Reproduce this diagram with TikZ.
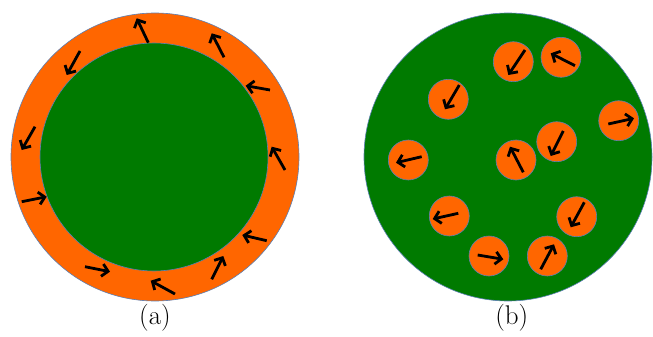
\documentclass[tikz,border=0pt]{standalone}
\usetikzlibrary{arrows.meta}
\definecolor{shellorange}{HTML}{FF6600}
\definecolor{coregreen}{HTML}{007A00}
\definecolor{rimblue}{HTML}{5B7FB5}
\tikzset{
  disc/.style={draw=rimblue, line width=0.6pt},
  spin/.style={draw=black, line width=2.8pt,
    -{Straight Barb[length=6pt,width=12.5pt]}},
  caption/.style={font=\fontsize{27}{31}\selectfont, inner sep=0pt}
}
\begin{document}
\begin{tikzpicture}[x=1pt,y=-1pt]
\useasboundingbox (0,0) rectangle (653,337);

% ---- (a): ordered shell around a core ----
\path[disc, fill=shellorange] (155,157) circle[radius=144];
\path[disc, fill=coregreen] (154,157) circle[radius=114];

\draw[spin] (148.3,42.7) -- (136.7,18.3);
\draw[spin] (224,57.3) -- (211.7,33.3);
\draw[spin] (270,90) -- (245.7,85.7);
\draw[spin] (285,170) -- (271.7,146.7);
\draw[spin] (266.7,240.7) -- (242.3,235);
\draw[spin] (211.7,279.3) -- (223.3,256);
\draw[spin] (175,294) -- (150.7,280.7);
\draw[spin] (85,266.7) -- (110,271.7);
\draw[spin] (21.7,201.7) -- (46.7,196.7);
\draw[spin] (35,126.7) -- (21.7,150);
\draw[spin] (80,51) -- (66.7,75);

\node[caption] (capA) at (155,318) {(a)};

% ---- (b): scattered grains in a matrix ----
\path[disc, fill=coregreen] (508,157) circle[radius=144];

\foreach \cx/\cy in {513.3/61.7, 561/57.3, 448.3/99.3, 618.7/120.7,
                     556.7/141.7, 516/160, 408.3/160, 449.3/216,
                     576.7/216.7, 489/256, 547.3/256}
  \path[disc, fill=shellorange] (\cx,\cy) circle[radius=20];

\draw[spin] (525,50) -- (508.3,75);
\draw[spin] (575,65.7) -- (550.7,53.3);
\draw[spin] (459.3,85) -- (445,109.3);
\draw[spin] (608.3,124) -- (634,118.3);
\draw[spin] (563.3,131) -- (550.7,156);
\draw[spin] (523.3,172.3) -- (510,146.7);
\draw[spin] (421.7,156.7) -- (396,162.7);
\draw[spin] (458.3,213.3) -- (432.7,219);
\draw[spin] (584.3,202.3) -- (570.7,227.3);
\draw[spin] (477.7,255) -- (503.3,259.3);
\draw[spin] (540.7,269.3) -- (554,244.3);

\node[caption] (capB) at (511.7,318) {(b)};
\end{tikzpicture}
\end{document}
